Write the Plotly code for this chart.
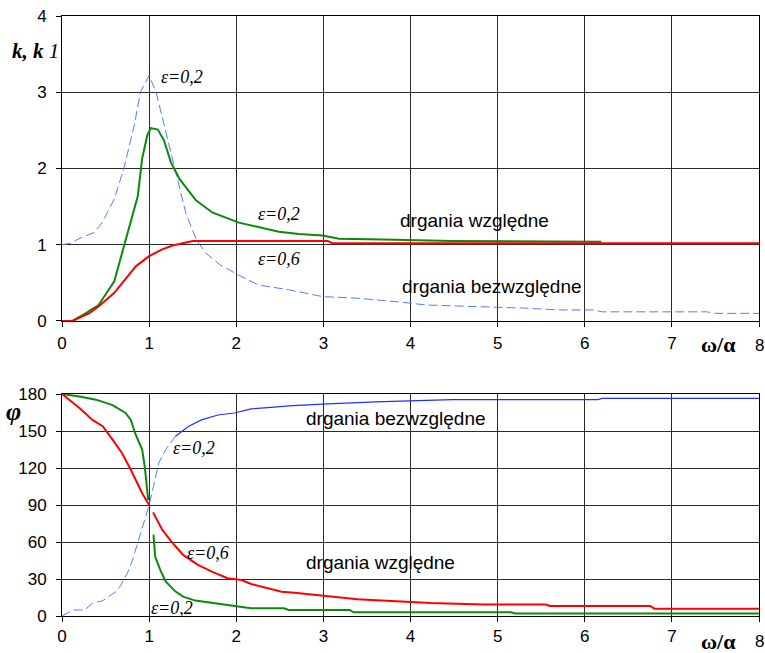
import plotly.graph_objects as go

# ---------------- data (top: amplitude ratios) ----------------
top_blue_x = [0, 0.1, 0.23, 0.37, 0.46, 0.6, 0.71, 0.83, 0.9, 1.0, 1.08, 1.19, 1.31, 1.42, 1.54, 1.65, 1.81,
              2.03, 2.26, 2.6, 2.99, 3.38, 3.87, 4.18, 4.71, 5.29, 5.71, 6.1, 6.2, 7.4, 7.5, 8.0]
top_blue_y = [1.0, 1.02, 1.1, 1.16, 1.29, 1.6, 2.0, 2.57, 3.0, 3.22, 3.0, 2.48, 1.91, 1.42, 1.07, 0.89, 0.74,
              0.6, 0.47, 0.41, 0.32, 0.3, 0.25, 0.21, 0.19, 0.17, 0.145, 0.145, 0.12, 0.12, 0.10, 0.10]

top_green_x = [0, 0.12, 0.27, 0.42, 0.6, 0.71, 0.81, 0.87, 0.92, 0.98, 1.02, 1.1, 1.17, 1.25, 1.35, 1.54,
               1.73, 2.03, 2.49, 2.72, 2.99, 3.18, 3.68, 4.48, 6.19]
top_green_y = [0, 0, 0.1, 0.21, 0.52, 0.98, 1.38, 1.64, 2.13, 2.44, 2.53, 2.51, 2.37, 2.08, 1.86, 1.58,
               1.42, 1.29, 1.17, 1.14, 1.12, 1.08, 1.07, 1.05, 1.04]

top_red_x = [0, 0.12, 0.31, 0.42, 0.6, 0.69, 0.85, 1.0, 1.15, 1.27, 1.38, 1.5, 3.05, 3.1, 8.0]
top_red_y = [0, 0, 0.1, 0.19, 0.37, 0.5, 0.72, 0.85, 0.94, 0.99, 1.02, 1.05, 1.05, 1.02, 1.02]

# ---------------- data (bottom: phase angle) ----------------
bot_blue_dash_x = [0, 0.125, 0.26, 0.35, 0.47, 0.54, 0.62, 0.67, 0.75, 0.81, 0.88, 0.94, 1.0, 1.05, 1.11,
                   1.19, 1.3]
bot_blue_dash_y = [0, 4.9, 4.9, 10.3, 12.5, 15.7, 19.8, 24.4, 34.6, 45.5, 61.7, 75, 90, 105, 124, 135, 145.6]
bot_blue_solid_x = [1.3, 1.45, 1.6, 1.79, 1.98, 2.17, 2.36, 2.65, 3.05, 3.6, 4.48, 5.03, 6.15, 6.2, 8.0]
bot_blue_solid_y = [145.6, 153.7, 159, 163, 164.6, 167.9, 169, 170.6, 172, 173.6, 175.4, 175.4, 175.4, 176.5,
                    176.5]

bot_green_x = [0, 0.2, 0.39, 0.58, 0.73, 0.79, 0.84, 0.92, 0.95, 0.97, 0.99, None,
               1.05, 1.07, 1.13, 1.19, 1.3, 1.39, 1.53, 1.75, 1.98, 2.17, 2.55, 2.6, 3.3, 3.35, 5.15, 5.2, 8.0]
bot_green_y = [180, 178, 175.4, 171, 164.6, 159, 148, 135, 121, 108, 94, None,
               66, 48, 37, 28, 20, 15.7, 12.5, 10.3, 8.1, 6.2, 6.2, 4.9, 4.9, 3.0, 3.0, 2.0, 2.0]

bot_red_x = [0, 0.2, 0.35, 0.47, 0.58, 0.69, 0.79, 0.86, 0.92, 1.0, None,
             1.045, 1.15, 1.26, 1.39, 1.56, 1.72, 1.9, 2.06, 2.17, 2.32, 2.52, 2.67, 2.9, 3.12, 3.39, 3.78,
             4.23, 4.84, 5.55, 5.6, 6.75, 6.8, 8.0]
bot_red_y = [180, 168.7, 159, 153.7, 143, 132, 118.6, 107.7, 99.6, 90, None,
             84, 70, 60, 49.5, 41.4, 36, 30.6, 29.2, 26, 23.3, 19.7, 18.9, 17, 15.7, 13.5, 12.2,
             10.5, 9.3, 9.3, 8.1, 8.1, 5.9, 5.9]

x_ticks = [0, 1, 2, 3, 4, 5, 6, 7, 8]
x_tick_labels = ["0", "1", "2", "3", "4", "5", "6", "7", ""]   # the "8" is drawn as an annotation
top_y_ticks = [0, 1, 2, 3, 4]
bot_y_ticks = [0, 30, 60, 90, 120, 150, 180]

# ---------------- figure ----------------
fig = go.Figure()
BLUE_T = "#4f7dff"
BLUE_B = "#1f2fff"
GREEN = "#0a8a0a"
RED = "#ff0000"

fig.add_trace(go.Scatter(x=top_blue_x, y=top_blue_y, mode="lines", xaxis="x", yaxis="y",
                         line=dict(color=BLUE_T, width=1, dash="9px,4px")))
fig.add_trace(go.Scatter(x=top_green_x, y=top_green_y, mode="lines", xaxis="x", yaxis="y",
                         line=dict(color=GREEN, width=2)))
fig.add_trace(go.Scatter(x=top_red_x, y=top_red_y, mode="lines", xaxis="x", yaxis="y",
                         line=dict(color=RED, width=2)))

fig.add_trace(go.Scatter(x=bot_blue_dash_x, y=bot_blue_dash_y, mode="lines", xaxis="x2", yaxis="y2",
                         line=dict(color=BLUE_T, width=1, dash="9px,4px")))
fig.add_trace(go.Scatter(x=bot_blue_solid_x, y=bot_blue_solid_y, mode="lines", xaxis="x2", yaxis="y2",
                         line=dict(color=BLUE_B, width=1.2)))
fig.add_trace(go.Scatter(x=bot_green_x, y=bot_green_y, mode="lines", xaxis="x2", yaxis="y2",
                         connectgaps=False, line=dict(color=GREEN, width=2)))
fig.add_trace(go.Scatter(x=bot_red_x, y=bot_red_y, mode="lines", xaxis="x2", yaxis="y2",
                         connectgaps=False, line=dict(color=RED, width=2)))

TICKFONT = dict(family="Liberation Sans, Arial", size=17, color="black")
GRID = "#2a2a2a"
common_axis = dict(showgrid=True, gridcolor=GRID, gridwidth=1, showline=True, linecolor="black",
                   linewidth=1, mirror=True, ticks="outside", ticklen=5, tickcolor="black",
                   tickfont=TICKFONT, zeroline=False, fixedrange=True)

fig.update_layout(
    width=765, height=653,
    margin=dict(l=62, r=6, t=16, b=37),
    paper_bgcolor="white", plot_bgcolor="white",
    showlegend=False,
    xaxis=dict(domain=[0, 1], range=[0, 8], tickvals=x_ticks, ticktext=x_tick_labels, anchor="y",
               ticklabelstandoff=2, **common_axis),
    yaxis=dict(domain=[0.4917, 1], range=[0, 4], tickvals=top_y_ticks, anchor="x", ticklabelstandoff=6,
               **common_axis),
    xaxis2=dict(domain=[0, 1], range=[0, 8], tickvals=x_ticks, ticktext=x_tick_labels, anchor="y2",
                ticklabelstandoff=0, **common_axis),
    yaxis2=dict(domain=[0, 0.37], range=[0, 180], tickvals=bot_y_ticks, anchor="x2", ticklabelstandoff=6,
                **common_axis),
)

EPS = dict(family="Liberation Serif, Times New Roman", size=18, color="black")
LAB = dict(family="Liberation Sans, Arial", size=19, color="black")
TITLEFONT = dict(family="Liberation Serif, Times New Roman", size=21, color="black")
OMEGAFONT = dict(family="Liberation Serif, Times New Roman", size=22, color="black")

ann = [
    # top chart
    dict(x=1.38, y=3.2, xref="x", yref="y", text="<i>ε=0,2</i>", font=EPS),
    dict(x=2.49, y=1.4, xref="x", yref="y", text="<i>ε=0,2</i>", font=EPS),
    dict(x=2.49, y=0.81, xref="x", yref="y", text="<i>ε=0,6</i>", font=EPS),
    dict(x=4.74, y=1.32, xref="x", yref="y", text="drgania względne", font=LAB),
    dict(x=4.93, y=0.45, xref="x", yref="y", text="drgania bezwzględne", font=LAB),
    # bottom chart
    dict(x=3.83, y=160, xref="x2", yref="y2", text="drgania bezwzględne", font=LAB),
    dict(x=1.52, y=136, xref="x2", yref="y2", text="<i>ε=0,2</i>", font=EPS),
    dict(x=1.68, y=51, xref="x2", yref="y2", text="<i>ε=0,6</i>", font=EPS),
    dict(x=3.66, y=43, xref="x2", yref="y2", text="drgania względne", font=LAB),
    dict(x=1.26, y=6.5, xref="x2", yref="y2", text="<i>ε=0,2</i>", font=EPS),
    # axis titles
    dict(x=0.0, y=0.941, xref="paper", yref="paper", xanchor="right", yanchor="middle", xshift=-1,
         text="<b><i>k, k</i></b> <i>1</i>", font=TITLEFONT),
    dict(x=0.0, y=0.34, xref="paper", yref="paper", xanchor="center", yanchor="middle", xshift=-49,
         text="<b><i>φ</i></b>", font=dict(family="Liberation Serif, Times New Roman", size=26, color="black")),
    dict(x=7.53, y=0.4917, xref="x", yref="paper", yanchor="middle", yshift=-24,
         text="<b>ω/α</b>", font=OMEGAFONT),
    dict(x=7.53, y=0.0, xref="x2", yref="paper", yanchor="middle", yshift=-25,
         text="<b>ω/α</b>", font=OMEGAFONT),
    # last x tick label ("8") on both axes
    dict(x=8, y=0.4917, xref="x", yref="paper", xanchor="center", yanchor="middle", yshift=-25,
         text=str(x_ticks[-1]), font=TICKFONT),
    dict(x=8, y=0.0, xref="x2", yref="paper", xanchor="center", yanchor="middle", yshift=-25,
         text=str(x_ticks[-1]), font=TICKFONT),
]
for a in ann:
    a["showarrow"] = False
fig.update_layout(annotations=ann)

# the page body's default 8px margin would shift and clip the figure in the 765x653 window
fig.write_html("out.html", config={"displayModeBar": False},
               post_script="document.body.style.margin='0px';")
